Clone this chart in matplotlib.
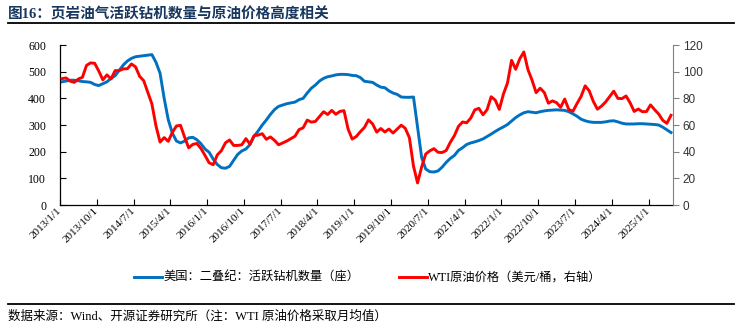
import numpy as np
import pandas as pd
import matplotlib
matplotlib.use('Agg')
import matplotlib.pyplot as plt
import matplotlib.transforms as mtrans

plt.rcParams['font.family'] = ['Liberation Serif', 'Noto Sans CJK SC']

# 月度数据 2013/1 - 2025/6
months = pd.date_range('2013-01-01', periods=150, freq='MS')

# 美国：二叠纪：活跃钻机数量（座）
rigs_2013 = [462, 465, 468, 468, 466, 463, 462, 460, 452, 448, 455, 462]
rigs_2014 = [475, 485, 505, 525, 540, 550, 556, 558, 560, 562, 564, 535]
rigs_2015 = [494, 400, 320, 270, 240, 233, 240, 252, 254, 245, 230, 210]
rigs_2016 = [198, 172, 152, 140, 138, 145, 168, 190, 203, 210, 227, 258]
rigs_2017 = [278, 300, 319, 340, 358, 370, 375, 380, 383, 386, 395, 400]
rigs_2018 = [420, 438, 450, 465, 475, 481, 484, 488, 490, 490, 489, 486]
rigs_2019 = [485, 478, 464, 462, 460, 450, 442, 440, 428, 420, 415, 405]
rigs_2020 = [404, 404, 405, 290, 178, 135, 125, 124, 128, 142, 160, 175]
rigs_2021 = [186, 205, 215, 227, 233, 237, 242, 248, 257, 266, 276, 285]
rigs_2022 = [293, 302, 315, 328, 338, 346, 350, 348, 346, 350, 353, 355]
rigs_2023 = [356, 357, 356, 355, 350, 342, 333, 322, 316, 312, 310, 310]
rigs_2024 = [310, 312, 315, 316, 312, 307, 304, 304, 304, 305, 305, 304]
rigs_2025 = [303, 302, 300, 292, 282, 272]

# WTI原油价格（美元/桶，月均值）
wti_2013 = [94.8, 95.3, 92.9, 92.0, 94.5, 95.8, 104.7, 106.6, 106.3, 100.5, 93.9, 97.6]
wti_2014 = [94.6, 100.8, 100.8, 102.1, 102.2, 105.8, 103.6, 96.5, 93.2, 84.4, 75.8, 59.3]
wti_2015 = [47.2, 50.6, 47.8, 54.5, 59.3, 59.8, 50.9, 42.9, 45.5, 46.2, 42.4, 37.2]
wti_2016 = [31.7, 30.3, 37.6, 40.8, 46.7, 48.8, 44.7, 44.7, 45.2, 49.8, 45.7, 52.0]
wti_2017 = [52.5, 53.5, 49.3, 51.1, 48.5, 45.2, 46.6, 48.0, 49.8, 51.6, 56.6, 57.9]
wti_2018 = [63.7, 62.2, 62.7, 66.3, 70.0, 67.9, 71.0, 68.1, 70.2, 70.8, 57.0, 49.5]
wti_2019 = [51.4, 55.0, 58.2, 63.9, 60.8, 54.7, 57.4, 54.8, 57.0, 54.0, 57.0, 59.9]
wti_2020 = [57.5, 50.5, 29.2, 16.6, 28.6, 38.3, 40.7, 42.3, 39.6, 39.4, 40.9, 47.0]
wti_2021 = [52.0, 59.0, 62.3, 61.7, 65.2, 71.4, 72.5, 67.7, 71.5, 81.2, 78.7, 71.7]
wti_2022 = [83.2, 91.6, 108.5, 101.8, 109.6, 114.8, 101.6, 93.7, 84.3, 87.6, 84.4, 76.4]
wti_2023 = [78.1, 76.8, 73.3, 79.5, 71.6, 70.3, 76.1, 81.4, 89.4, 85.6, 77.7, 71.9]
wti_2024 = [74.2, 77.3, 81.3, 85.4, 80.0, 79.8, 81.8, 76.7, 70.2, 72.0, 70.0, 70.1]
wti_2025 = [75.1, 71.5, 68.2, 63.5, 61.3, 67.3]

rigs = rigs_2013 + rigs_2014 + rigs_2015 + rigs_2016 + rigs_2017 + rigs_2018 + rigs_2019 \
    + rigs_2020 + rigs_2021 + rigs_2022 + rigs_2023 + rigs_2024 + rigs_2025
wti = wti_2013 + wti_2014 + wti_2015 + wti_2016 + wti_2017 + wti_2018 + wti_2019 \
    + wti_2020 + wti_2021 + wti_2022 + wti_2023 + wti_2024 + wti_2025

xlabels = ['2013/1/1', '2013/10/1', '2014/7/1', '2015/4/1', '2016/1/1', '2016/10/1',
           '2017/7/1', '2018/4/1', '2019/1/1', '2019/10/1', '2020/7/1', '2021/4/1',
           '2022/1/1', '2022/10/1', '2023/7/1', '2024/4/1', '2025/1/1']

title = '图16：页岩油气活跃钻机数量与原油价格高度相关'
source = '数据来源：Wind、开源证券研究所（注：WTI 原油价格采取月均值）'
label_rigs = '美国：二叠纪：活跃钻机数量（座）'
label_wti = 'WTI原油价格（美元/桶，右轴）'

x = np.arange(len(months))

fig = plt.figure(figsize=(7.4, 3.25), dpi=100)
ax = fig.add_axes([0.081, 0.369, 0.8285, 0.4925])
ax2 = ax.twinx()

l1, = ax.plot(x, rigs, color='#0070C0', lw=2.1, solid_joinstyle='round')
l2, = ax2.plot(x, wti, color='#FF0000', lw=2.1, solid_joinstyle='round')

ax.set_xlim(-0.5, len(x) - 0.5)
ax.set_ylim(0, 600)
ax.set_yticks(np.arange(0, 601, 100))
ax2.set_ylim(0, 120)
ax2.set_yticks(np.arange(0, 121, 20))

ticks = [-0.5 + 9 * i for i in range(len(xlabels))]
ax.set_xticks(ticks)
ax.set_xticklabels(xlabels, rotation=45, ha='right', va='center', rotation_mode='anchor',
                   fontsize=8, family='Liberation Serif')
offset = mtrans.ScaledTranslation(-0.015, -0.11, fig.dpi_scale_trans)
for t in ax.get_xticklabels():
    t.set_transform(t.get_transform() + offset)

ax.tick_params(axis='x', direction='in', length=4, width=0.8, pad=3)
ax.tick_params(axis='y', direction='in', length=4, width=0.8, labelsize=8.5, pad=10)
for t in ax.get_yticklabels():
    t.set_family('Liberation Serif')
ax2.tick_params(axis='y', direction='out', length=4, width=0.8, color='#808080',
                labelsize=8.5, labelcolor='#333333', pad=3)
for t in ax2.get_yticklabels():
    t.set_family('Liberation Sans')

for a in (ax, ax2):
    a.spines['top'].set_visible(False)
ax.spines['right'].set_visible(False)
ax2.spines['left'].set_visible(False)
ax2.spines['bottom'].set_visible(False)
ax2.spines['right'].set_color('#808080')
ax.spines['left'].set_linewidth(0.9)
ax.spines['bottom'].set_linewidth(0.9)

fig.legend([l1, l2], [label_rigs, label_wti], loc='center', bbox_to_anchor=(0.497, 0.145),
           ncol=2, frameon=False, fontsize=8.8, handlelength=2.3, handletextpad=0.1,
           columnspacing=3.2)

fig.text(0.011, 0.955, title, fontsize=10.5, fontweight='bold', color='#17375E',
         va='center', ha='left')
fig.add_artist(plt.Line2D([0.011, 0.992], [0.928, 0.928], color='black', lw=1.3))
fig.add_artist(plt.Line2D([0.011, 0.992], [0.065, 0.065], color='black', lw=1.3))
fig.text(0.011, 0.025, source, fontsize=9, va='center', ha='left')

plt.savefig('out.png', dpi=100)
